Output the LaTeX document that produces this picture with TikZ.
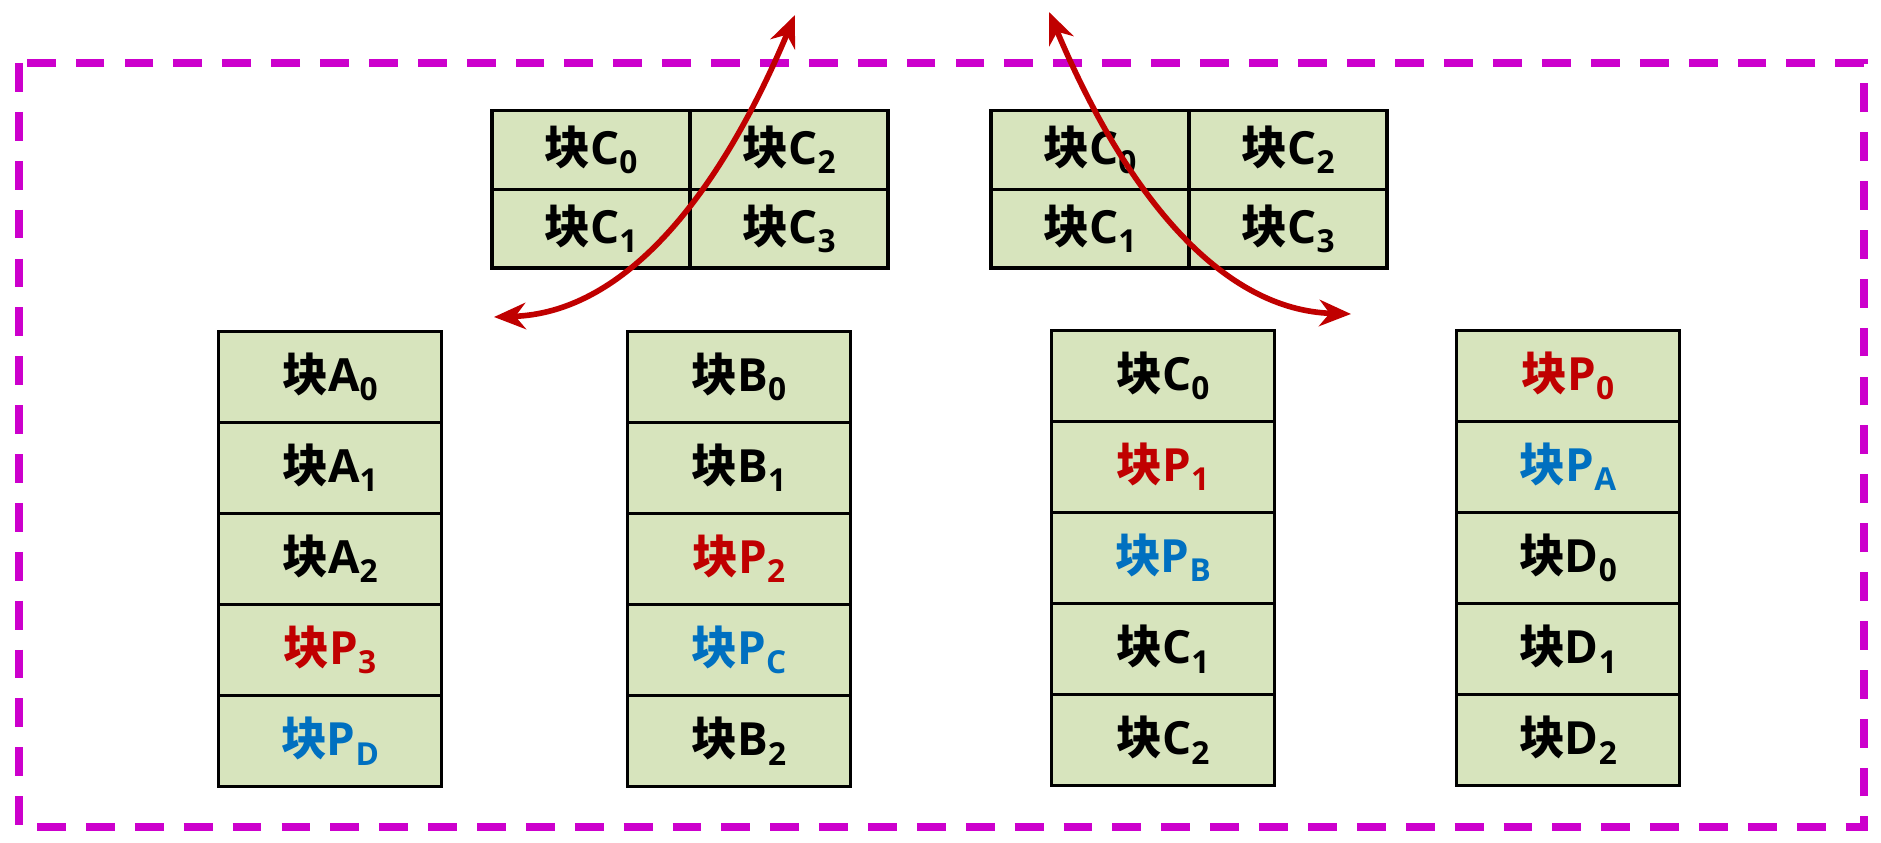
\documentclass[tikz,border=0pt]{standalone}
\usepackage{fontspec}
\setmainfont{Open Sans}
\newfontfamily\cjk{Noto Sans CJK SC}
\usetikzlibrary{positioning,arrows.meta}

\definecolor{cellgreen}{HTML}{D7E4BD}
\definecolor{pred}{HTML}{C00000}
\definecolor{pblue}{HTML}{0070C0}
\definecolor{frameviolet}{HTML}{CC00CC}

\newcommand{\kuai}[2]{{\cjk 块}#1\raisebox{-2.6pt}{\fontsize{9}{9}\selectfont #2}}

\tikzset{
    blk/.style={draw, line width=1pt, fill=cellgreen, outer sep=0pt, inner sep=0pt,
        minimum width=2.23cm, minimum height=0.91cm,
        font=\fontsize{13}{15}\selectfont\bfseries},
    tblk/.style={blk, minimum width=1.98cm, minimum height=0.785cm},
    swaparrow/.style={pred, line width=1.6pt,
        {Stealth[length=9pt,width=7.5pt]}-{Stealth[length=9pt,width=7.5pt]}}
}

\begin{document}
\begin{tikzpicture}[x=0.01cm, y=-0.01cm]
    \useasboundingbox (0,0) rectangle (1881,843);
    % frame
    \draw [frameviolet, line width=2.3pt, dash pattern=on 8.2pt off 5.7pt] (19,63) rectangle (1864,827);

    % left swap table
    \node [tblk] (l0) at (591,150) {\kuai{C}{0}};
    \node [tblk, below=0pt of l0] (l1) {\kuai{C}{1}};
    \node [tblk, right=0pt of l0] (l2) {\kuai{C}{2}};
    \node [tblk, below=0pt of l2] (l3) {\kuai{C}{3}};
    % right swap table
    \node [tblk] (r0) at (1090,150) {\kuai{C}{0}};
    \node [tblk, below=0pt of r0] (r1) {\kuai{C}{1}};
    \node [tblk, right=0pt of r0] (r2) {\kuai{C}{2}};
    \node [tblk, below=0pt of r2] (r3) {\kuai{C}{3}};

    % disk A
    \node [blk] (a0) at (330,377) {\kuai{A}{0}};
    \node [blk, below=0pt of a0] (a1) {\kuai{A}{1}};
    \node [blk, below=0pt of a1] (a2) {\kuai{A}{2}};
    \node [blk, below=0pt of a2, text=pred] (a3) {\kuai{P}{3}};
    \node [blk, below=0pt of a3, text=pblue] (a4) {\kuai{P}{D}};
    % disk B
    \node [blk] (b0) at (739,377) {\kuai{B}{0}};
    \node [blk, below=0pt of b0] (b1) {\kuai{B}{1}};
    \node [blk, below=0pt of b1, text=pred] (b2) {\kuai{P}{2}};
    \node [blk, below=0pt of b2, text=pblue] (b3) {\kuai{P}{C}};
    \node [blk, below=0pt of b3] (b4) {\kuai{B}{2}};
    % disk C
    \node [blk] (c0) at (1163,376) {\kuai{C}{0}};
    \node [blk, below=0pt of c0, text=pred] (c1) {\kuai{P}{1}};
    \node [blk, below=0pt of c1, text=pblue] (c2) {\kuai{P}{B}};
    \node [blk, below=0pt of c2] (c3) {\kuai{C}{1}};
    \node [blk, below=0pt of c3] (c4) {\kuai{C}{2}};
    % disk D
    \node [blk, text=pred] (d0) at (1568,376) {\kuai{P}{0}};
    \node [blk, below=0pt of d0, text=pblue] (d1) {\kuai{P}{A}};
    \node [blk, below=0pt of d1] (d2) {\kuai{D}{0}};
    \node [blk, below=0pt of d2] (d3) {\kuai{D}{1}};
    \node [blk, below=0pt of d3] (d4) {\kuai{D}{2}};

    % swap arrows
    \coordinate (lin) at (494,317);
    \coordinate (lout) at (795,15);
    \coordinate (rout) at (1049,12);
    \coordinate (rin) at (1351,314);
    \draw [swaparrow] (lin) .. controls +(126,-4) and +(-80,190) .. (lout);
    \draw [swaparrow] (rout) .. controls +(80,190) and +(-126,-4) .. (rin);
\end{tikzpicture}
\end{document}
